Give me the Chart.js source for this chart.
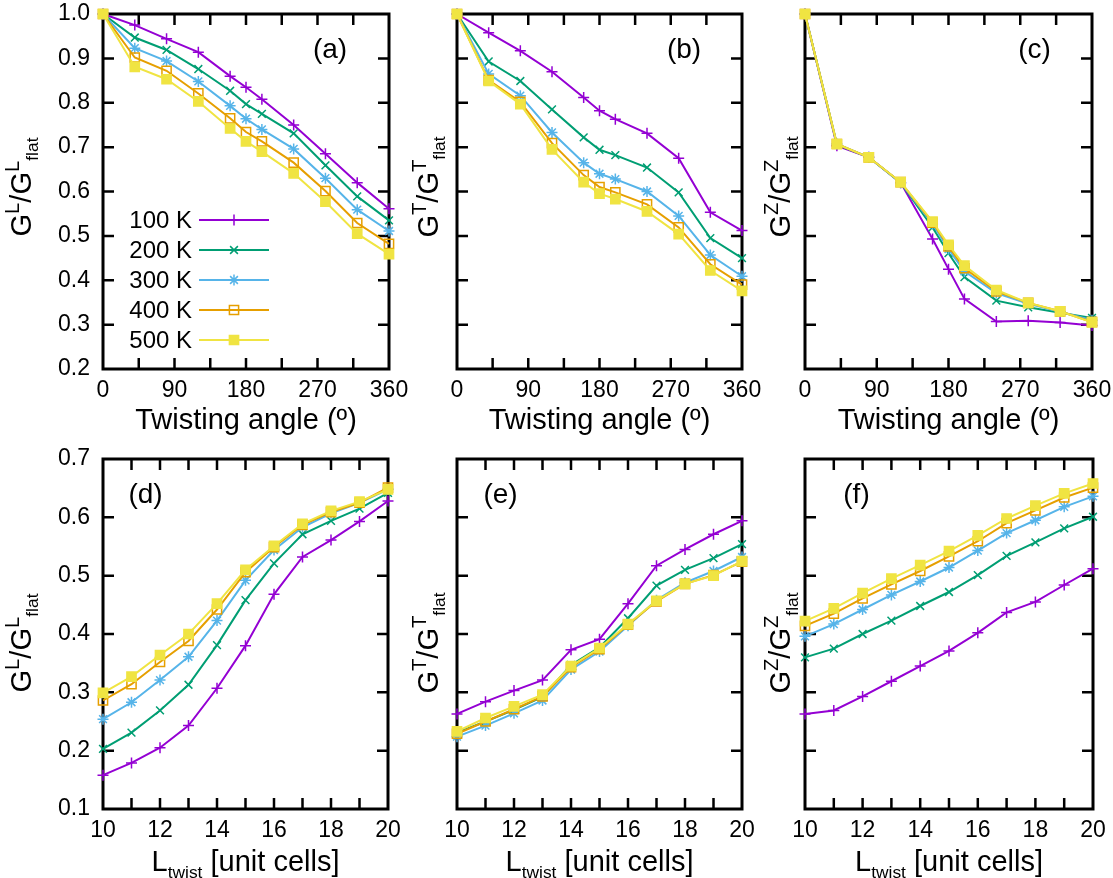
<!DOCTYPE html>
<html>
<head>
<meta charset="utf-8">
<script src="https://cdn.jsdelivr.net/npm/chart.js@4/dist/chart.umd.min.js"></script>
<style>
  body { margin: 0; background: #fff; }
  #wrap { position: relative; width: 1113px; height: 878px; background: #fff; overflow: hidden; }
  #wrap canvas { position: absolute; }
</style>
</head>
<body>
<div id="wrap">
  <canvas id="pa" width="430" height="440" style="left:0;top:0"></canvas>
  <canvas id="pb" width="380" height="440" style="left:400px;top:0"></canvas>
  <canvas id="pc" width="358" height="440" style="left:755px;top:0"></canvas>
  <canvas id="pd" width="430" height="438" style="left:0;top:440px"></canvas>
  <canvas id="pe" width="380" height="438" style="left:400px;top:440px"></canvas>
  <canvas id="pf" width="358" height="438" style="left:755px;top:440px"></canvas>
</div>
<script>
// x values
const angles = [0, 40, 80, 120, 160, 180, 200, 240, 280, 320, 360];
const lengths = [10, 11, 12, 13, 14, 15, 16, 17, 18, 19, 20];
const temps = ['100 K', '200 K', '300 K', '400 K', '500 K'];

// tick labels
const angleTicks = [0, 90, 180, 270, 360];
const lengthTicks = [10, 12, 14, 16, 18, 20];
const topYTicks = [0.2, 0.3, 0.4, 0.5, 0.6, 0.7, 0.8, 0.9, 1.0];
const botYTicks = [0.1, 0.2, 0.3, 0.4, 0.5, 0.6, 0.7];

// (a) G^L / G^L_flat vs twisting angle, rows = 100..500 K
const longAngle = [
  [1.0, 0.975, 0.944, 0.914, 0.860, 0.835, 0.808, 0.750, 0.685, 0.620, 0.561],
  [1.0, 0.947, 0.919, 0.876, 0.827, 0.797, 0.775, 0.731, 0.659, 0.589, 0.535],
  [1.0, 0.923, 0.894, 0.848, 0.793, 0.764, 0.740, 0.696, 0.630, 0.559, 0.511],
  [1.0, 0.902, 0.872, 0.821, 0.765, 0.734, 0.713, 0.665, 0.601, 0.529, 0.482],
  [1.0, 0.881, 0.853, 0.803, 0.742, 0.713, 0.690, 0.641, 0.577, 0.505, 0.459]
];
// (b) G^T
const transAngle = [
  [1.0, 0.958, 0.917, 0.870, 0.812, 0.782, 0.763, 0.731, 0.675, 0.553, 0.512],
  [1.0, 0.893, 0.849, 0.785, 0.722, 0.694, 0.682, 0.654, 0.598, 0.495, 0.450],
  [1.0, 0.865, 0.816, 0.733, 0.665, 0.640, 0.628, 0.600, 0.545, 0.457, 0.409],
  [1.0, 0.851, 0.802, 0.709, 0.637, 0.610, 0.598, 0.571, 0.519, 0.436, 0.390],
  [1.0, 0.849, 0.797, 0.695, 0.621, 0.595, 0.583, 0.555, 0.504, 0.422, 0.376]
];
// (c) G^Z
const zAngle = [
  [1.0, 0.703, 0.677, 0.620, 0.493, 0.425, 0.358, 0.307, 0.309, 0.305, 0.298],
  [1.0, 0.706, 0.677, 0.620, 0.519, 0.461, 0.407, 0.354, 0.339, 0.327, 0.315],
  [1.0, 0.707, 0.677, 0.620, 0.527, 0.470, 0.420, 0.371, 0.347, 0.329, 0.310],
  [1.0, 0.707, 0.677, 0.621, 0.530, 0.476, 0.427, 0.375, 0.349, 0.330, 0.306],
  [1.0, 0.707, 0.677, 0.621, 0.532, 0.480, 0.433, 0.378, 0.349, 0.330, 0.305]
];
// (d) G^L vs L_twist
const longLen = [
  [0.158, 0.179, 0.205, 0.243, 0.307, 0.380, 0.468, 0.532, 0.561, 0.593, 0.628],
  [0.203, 0.231, 0.269, 0.313, 0.381, 0.458, 0.521, 0.571, 0.594, 0.615, 0.642],
  [0.254, 0.283, 0.321, 0.361, 0.423, 0.492, 0.544, 0.583, 0.607, 0.625, 0.648],
  [0.286, 0.314, 0.352, 0.388, 0.442, 0.506, 0.549, 0.587, 0.609, 0.625, 0.651],
  [0.299, 0.327, 0.364, 0.400, 0.452, 0.510, 0.551, 0.589, 0.611, 0.627, 0.648]
];
// (e) G^T vs L_twist
const transLen = [
  [0.263, 0.284, 0.303, 0.321, 0.373, 0.391, 0.452, 0.517, 0.545, 0.571, 0.594],
  [0.231, 0.250, 0.270, 0.292, 0.347, 0.377, 0.427, 0.483, 0.510, 0.530, 0.554],
  [0.224, 0.243, 0.264, 0.286, 0.339, 0.370, 0.414, 0.458, 0.488, 0.508, 0.532],
  [0.229, 0.250, 0.271, 0.293, 0.343, 0.374, 0.416, 0.456, 0.486, 0.501, 0.524],
  [0.233, 0.256, 0.276, 0.296, 0.345, 0.376, 0.417, 0.457, 0.486, 0.500, 0.525]
];
// (f) G^Z vs L_twist
const zLen = [
  [0.263, 0.269, 0.293, 0.319, 0.345, 0.371, 0.402, 0.437, 0.455, 0.484, 0.512],
  [0.360, 0.375, 0.400, 0.423, 0.448, 0.472, 0.501, 0.534, 0.557, 0.581, 0.601],
  [0.396, 0.417, 0.442, 0.467, 0.490, 0.514, 0.543, 0.573, 0.595, 0.618, 0.636],
  [0.414, 0.435, 0.461, 0.485, 0.508, 0.533, 0.559, 0.590, 0.612, 0.634, 0.651],
  [0.422, 0.444, 0.470, 0.495, 0.518, 0.542, 0.569, 0.598, 0.620, 0.641, 0.658]
];

const colors = ['#9400d3', '#009e73', '#56b4e9', '#e69f00', '#f0e442'];
const marks = ['cross', 'crossRot', 'star', 'rect', 'rect'];
const FONT = "'Liberation Sans', Arial, sans-serif";

function makeSets(xs, rows) {
  return rows.map((row, i) => ({
    label: temps[i],
    data: row.map((v, k) => ({ x: xs[k], y: v })),
    borderColor: colors[i],
    backgroundColor: i === 4 ? colors[i] : 'rgba(0,0,0,0)',
    borderWidth: 2,
    pointStyle: marks[i],
    pointRadius: i >= 3 ? 6.5 : 5.5,
    pointBorderWidth: 1.5,
    pointBorderColor: colors[i],
    pointBackgroundColor: i === 4 ? colors[i] : 'rgba(0,0,0,0)',
    tension: 0,
    clip: false,
    order: 4 - i
  }));
}

// draws text pieces [text, scale, dy] left to right, returns width
function rich(ctx, parts, F, x, y, measureOnly) {
  let w = 0;
  parts.forEach(p => {
    ctx.font = (F * p[1]) + 'px ' + FONT;
    if (!measureOnly) ctx.fillText(p[0], x + w, y + p[2] * F);
    w += ctx.measureText(p[0]).width;
  });
  return w;
}

function ratioTitle(sym) {
  return [['G', 1, 0], [sym, 0.7, -0.42], ['/G', 1, 0], [sym, 0.7, -0.42], ['flat', 0.6, 0.25]];
}

function makePanel(id, o) {
  const deco = {
    id: 'deco_' + id,
    beforeDatasetsDraw(chart) {
      const ctx = chart.ctx;
      const a = chart.chartArea;
      const xs = chart.scales.x, ys = chart.scales.y;
      ctx.save();
      ctx.strokeStyle = '#000';
      ctx.lineWidth = 3;
      ctx.strokeRect(a.left, a.top, a.right - a.left, a.bottom - a.top);
      ctx.lineWidth = 2.5;
      ctx.beginPath();
      o.xMarks.forEach(v => {
        const px = xs.getPixelForValue(v);
        ctx.moveTo(px, a.bottom); ctx.lineTo(px, a.bottom - 11);
        ctx.moveTo(px, a.top); ctx.lineTo(px, a.top + 11);
      });
      o.yMarks.forEach(v => {
        const py = ys.getPixelForValue(v);
        ctx.moveTo(a.left, py); ctx.lineTo(a.left + 11, py);
        ctx.moveTo(a.right, py); ctx.lineTo(a.right - 11, py);
      });
      ctx.stroke();
      ctx.restore();
    },
    afterDatasetsDraw(chart) {
      const ctx = chart.ctx;
      const a = chart.chartArea;
      ctx.save();
      ctx.fillStyle = '#000';
      ctx.textBaseline = 'alphabetic';
      const F = 29;
      // y title (rotated)
      const yw = rich(ctx, o.yTitle, F, 0, 0, true);
      ctx.save();
      ctx.translate(o.yTitleX, o.yTitleY);
      ctx.rotate(-Math.PI / 2);
      rich(ctx, o.yTitle, F, -yw / 2, 0.716 * F / 2, false);
      ctx.restore();
      // x title
      const xw = rich(ctx, o.xTitle, F, 0, 0, true);
      rich(ctx, o.xTitle, F, (a.left + a.right) / 2 - xw / 2, o.xTitleY, false);
      // panel letter
      ctx.font = '28px ' + FONT;
      ctx.textAlign = 'center';
      ctx.fillText(o.letter, o.letterX, o.letterY);
      // legend
      if (o.legend) {
        ctx.font = '24px ' + FONT;
        ctx.textAlign = 'right';
        ctx.textBaseline = 'middle';
        chart.data.datasets.forEach((ds, i) => {
          const y = 220 + 30 * i;
          ctx.fillStyle = '#000';
          ctx.fillText(ds.label, 192, y + 1);
          ctx.strokeStyle = ds.borderColor;
          ctx.lineWidth = 2;
          ctx.beginPath();
          ctx.moveTo(199, y); ctx.lineTo(269, y);
          ctx.stroke();
          ctx.fillStyle = ds.pointBackgroundColor;
          ctx.lineWidth = 1.5;
          Chart.helpers.drawPoint(ctx, {
            pointStyle: ds.pointStyle, radius: ds.pointRadius, rotation: 0, borderWidth: 1.5
          }, 234, y);
        });
      }
      ctx.restore();
    }
  };

  new Chart(document.getElementById(id), {
    type: 'line',
    data: { datasets: makeSets(o.xs, o.rows) },
    options: {
      responsive: false,
      animation: false,
      layout: { padding: { left: 0, right: o.padRight, top: o.padTop, bottom: 0 } },
      plugins: { legend: { display: false }, tooltip: { enabled: false } },
      scales: {
        x: {
          type: 'linear',
          min: o.xMin, max: o.xMax,
          grid: { display: false, drawTicks: false },
          border: { display: false },
          afterBuildTicks: s => { s.ticks = o.xLabels.map(v => ({ value: v })); },
          ticks: {
            color: '#000', font: { family: FONT, size: 23 }, padding: 8,
            maxRotation: 0, autoSkip: false
          },
          afterFit: s => { s.height = o.xHeight; s.paddingLeft = 0; s.paddingRight = 0; }
        },
        y: {
          min: o.yMin, max: o.yMax,
          grid: { display: false, drawTicks: false },
          border: { display: false },
          afterBuildTicks: s => { s.ticks = o.yLabels.map(v => ({ value: v })); },
          ticks: {
            display: o.showY, color: '#000', font: { family: FONT, size: 23 }, padding: 13,
            autoSkip: false, callback: v => v.toFixed(1)
          },
          afterFit: s => { s.width = o.yWidth; s.paddingTop = 0; s.paddingBottom = 0; }
        }
      }
    },
    plugins: [deco]
  });
}

const angleMarks = [45, 90, 135, 180, 225, 270, 315];
const lenMarks = [11, 12, 13, 14, 15, 16, 17, 18, 19];
const topYMarks = [0.3, 0.4, 0.5, 0.6, 0.7, 0.8, 0.9];
const botYMarks = [0.2, 0.3, 0.4, 0.5, 0.6];
const twistTitle = [['Twisting angle (º)', 1, 0]];
const lenTitle = [['L', 1, 0], ['twist', 0.6, 0.25], [' [unit cells]', 1, 0]];

const topCommon = {
  xs: angles, xMin: 0, xMax: 360, xLabels: angleTicks, xMarks: angleMarks,
  yMin: 0.2, yMax: 1.0, yLabels: topYTicks, yMarks: topYMarks,
  padTop: 14, xHeight: 71, xTitle: twistTitle, xTitleY: 429, yTitleY: 187, letterY: 58
};
const botCommon = {
  xs: lengths, xMin: 10, xMax: 20, xLabels: lengthTicks, xMarks: lenMarks,
  yMin: 0.1, yMax: 0.7, yLabels: botYTicks, yMarks: botYMarks,
  padTop: 19, xHeight: 69, xTitle: lenTitle, xTitleY: 431, yTitleY: 203, letterY: 63
};

makePanel('pa', Object.assign({}, topCommon, {
  rows: longAngle, yWidth: 103, padRight: 41, showY: true, yTitle: ratioTitle('L'),
  yTitleX: 20.5, letter: '(a)', letterX: 330, legend: true
}));
makePanel('pb', Object.assign({}, topCommon, {
  rows: transAngle, yWidth: 57, padRight: 38, showY: false, yTitle: ratioTitle('T'),
  yTitleX: 27.5, letter: '(b)', letterX: 284
}));
makePanel('pc', Object.assign({}, topCommon, {
  rows: zAngle, yWidth: 50, padRight: 21, showY: false, yTitle: ratioTitle('Z'),
  yTitleX: 25, letter: '(c)', letterX: 279.5
}));
makePanel('pd', Object.assign({}, botCommon, {
  rows: longLen, yWidth: 103, padRight: 42, showY: true, yTitle: ratioTitle('L'),
  yTitleX: 20.5, letter: '(d)', letterX: 145.5
}));
makePanel('pe', Object.assign({}, botCommon, {
  rows: transLen, yWidth: 57, padRight: 38, showY: false, yTitle: ratioTitle('T'),
  yTitleX: 27.5, letter: '(e)', letterX: 100.5
}));
makePanel('pf', Object.assign({}, botCommon, {
  rows: zLen, yWidth: 50, padRight: 20, showY: false, yTitle: ratioTitle('Z'),
  yTitleX: 25, letter: '(f)', letterX: 101.5
}));
</script>
</body>
</html>
